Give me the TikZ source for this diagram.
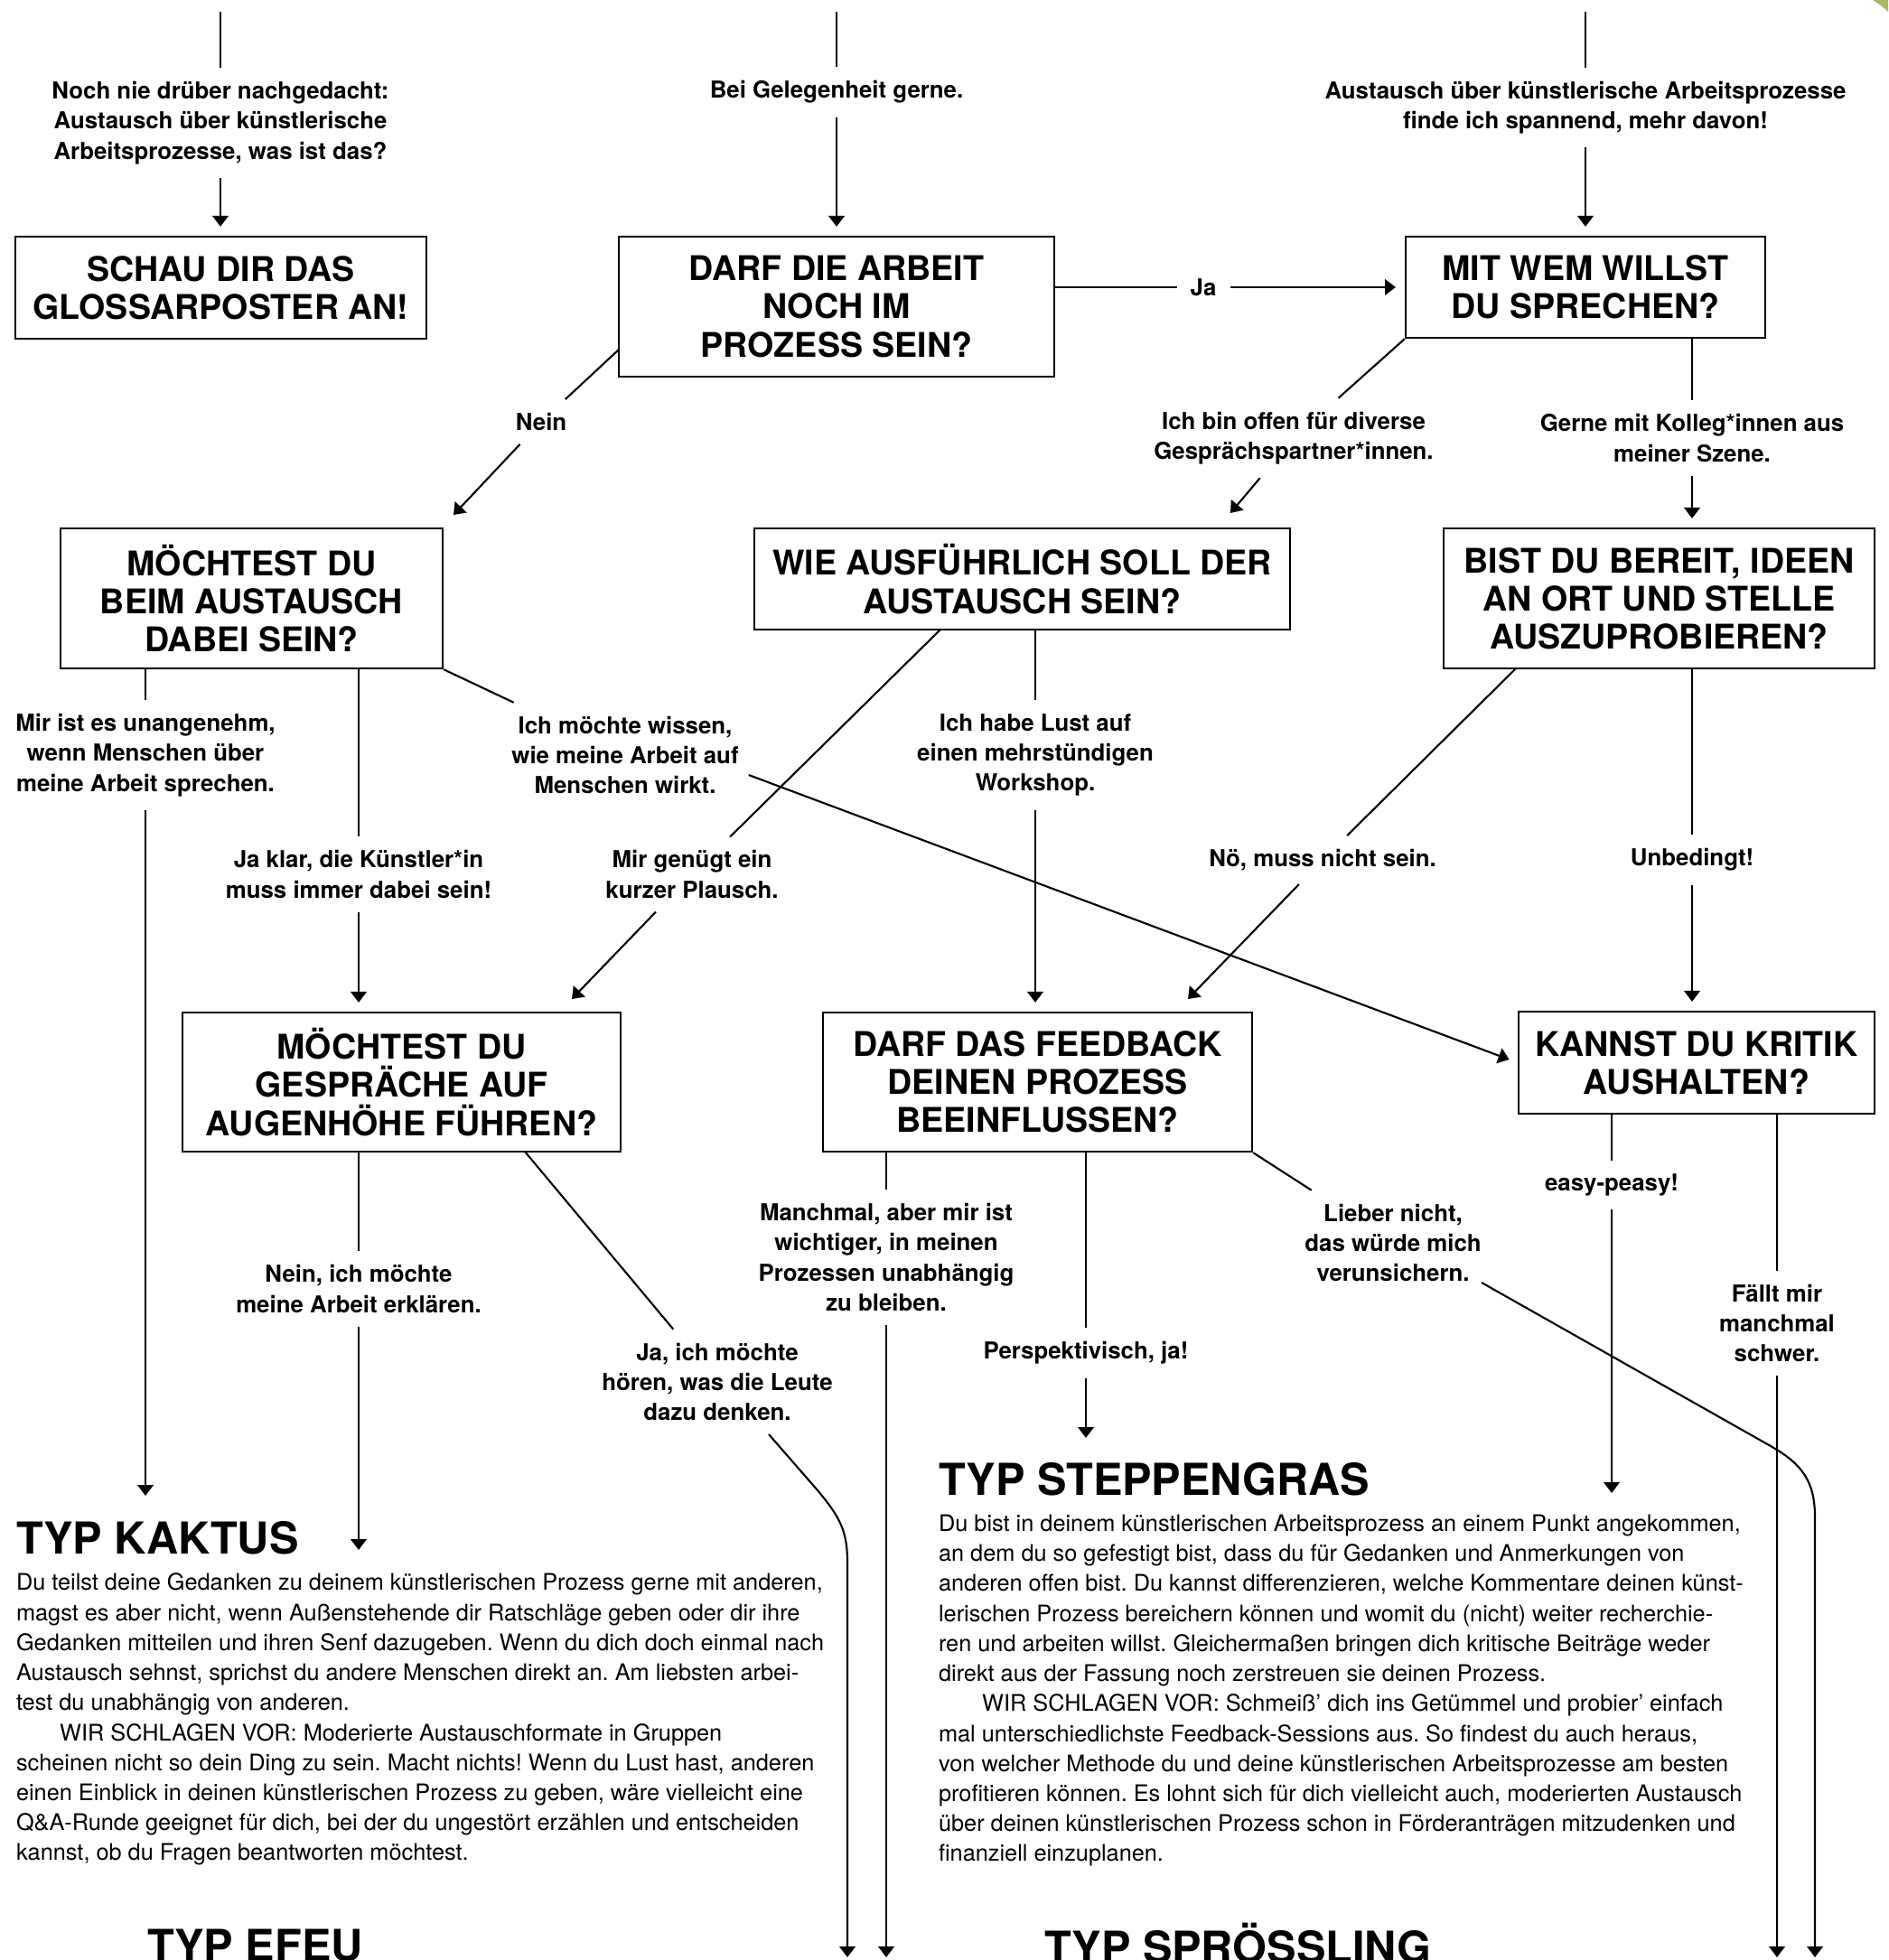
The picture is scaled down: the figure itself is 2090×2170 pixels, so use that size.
\documentclass[tikz,border=0pt]{standalone}
\usepackage{fontspec}
\setmainfont{TeX Gyre Heros}
\usetikzlibrary{arrows.meta,calc}
\definecolor{cornergreen}{RGB}{170,186,102}
\newcommand{\boxfont}{\bfseries\fontsize{10.7pt}{12pt}\selectfont}
\newcommand{\lblfont}{\bfseries\fontsize{7.35pt}{9.5pt}\selectfont}
\newcommand{\bodyfont}{\fontsize{7.2pt}{9.45pt}\selectfont}
\newcommand{\headfont}{\bfseries\fontsize{13.85pt}{16pt}\selectfont}
\frenchspacing
\begin{document}
\begin{tikzpicture}[x=0.1mm,y=-0.1mm,line width=0.6pt,
  qbox/.style={draw,line width=0.7pt,align=center,font=\boxfont,inner sep=0pt},
  lbl/.style={align=center,font=\lblfont,inner xsep=4pt,inner ysep=4pt},
  arr/.style={-{Triangle[width=5pt,length=3.4pt]}},
  gap/.style={shorten >=2.8pt},
  head/.style={anchor=base west,font=\headfont,inner sep=0pt},
  body/.style={anchor=north west,align=left,font=\bodyfont,inner sep=0pt}]
\useasboundingbox (0,0) rectangle (2090,2170);
\clip (0,0) rectangle (2090,2170);
\fill[cornergreen] (2073,0) .. controls (2079,4) and (2085,8) .. (2090,13) -- (2090,0) -- cycle;

% question boxes
\node[qbox,minimum width=45.5mm,minimum height=11.3mm] (B1) at (244.5,318.5) {SCHAU DIR DAS\\GLOSSARPOSTER AN!};
\node[qbox,minimum width=48.2mm,minimum height=15.5mm] (B2) at (926,339.5) {DARF DIE ARBEIT\\NOCH IM\\PROZESS SEIN?};
\node[qbox,minimum width=39.8mm,minimum height=11.2mm] (B3) at (1755,318) {MIT WEM WILLST\\DU SPRECHEN?};
\node[qbox,minimum width=42.3mm,minimum height=15.5mm] (B4) at (278.5,662.5) {MÖCHTEST DU\\BEIM AUSTAUSCH\\DABEI SEIN?};
\node[qbox,minimum width=59.3mm,minimum height=11.2mm] (B5) at (1131.5,641) {WIE AUSFÜHRLICH SOLL DER\\AUSTAUSCH SEIN?};
\node[qbox,minimum width=47.7mm,minimum height=15.5mm] (B6) at (1836.5,662.5) {BIST DU BEREIT, IDEEN\\AN ORT UND STELLE\\AUSZUPROBIEREN?};
\node[qbox,minimum width=48.5mm,minimum height=15.4mm] (B7) at (444.5,1198) {MÖCHTEST DU\\GESPRÄCHE AUF\\AUGENHÖHE FÜHREN?};
\node[qbox,minimum width=47.5mm,minimum height=15.4mm] (B8) at (1148.5,1198) {DARF DAS FEEDBACK\\DEINEN PROZESS\\BEEINFLUSSEN?};
\node[qbox,minimum width=39.4mm,minimum height=11.3mm] (B9) at (1878,1176.5) {KANNST DU KRITIK\\AUSHALTEN?};

% answer labels
\node[lbl] (L1) at (244,136) {Noch nie drüber nachgedacht:\\Austausch über künstlerische\\Arbeitsprozesse, was ist das?};
\node[lbl] (L2) at (926,102) {Bei Gelegenheit gerne.};
\node[lbl] (L3) at (1755,119) {Austausch über künstlerische Arbeitsprozesse\\finde ich spannend, mehr davon!};
\node[lbl] (Ja) at (1332,318) {Ja};
\node[lbl] (Nein) at (599,467) {Nein};
\node[lbl] (Offen) at (1432,485) {Ich bin offen für diverse\\Gesprächspartner*innen.};
\node[lbl] (Gerne) at (1873,485) {Gerne mit Kolleg*innen aus\\meiner Szene.};
\node[lbl] (Unang) at (161,836) {Mir ist es unangenehm,\\wenn Menschen über\\meine Arbeit sprechen.};
\node[lbl] (Wissen) at (692,836) {Ich möchte wissen,\\wie meine Arbeit auf\\Menschen wirkt.};
\node[lbl] (Works) at (1146,836) {Ich habe Lust auf\\einen mehrstündigen\\Workshop.};
\node[lbl] (JaKlar) at (397,968) {Ja klar, die Künstler*in\\muss immer dabei sein!};
\node[lbl] (Plausch) at (766,968) {Mir genügt ein\\kurzer Plausch.};
\node[lbl] (Noe) at (1464,952) {Nö, muss nicht sein.};
\node[lbl] (Unbed) at (1873,952) {Unbedingt!};
\node[lbl] (Erkl) at (397,1427) {Nein, ich möchte\\meine Arbeit erklären.};
\node[lbl] (Hoeren) at (794,1530) {Ja, ich möchte\\hören, was die Leute\\dazu denken.};
\node[lbl] (Manch) at (981,1392) {Manchmal, aber mir ist\\wichtiger, in meinen\\Prozessen unabhängig\\zu bleiben.};
\node[lbl] (Persp) at (1202,1498) {Perspektivisch, ja!};
\node[lbl] (Lieber) at (1542,1376) {Lieber nicht,\\das würde mich\\verunsichern.};
\node[lbl] (Easy) at (1784,1312) {easy-peasy!};
\node[lbl] (Faellt) at (1967,1465) {Fällt mir\\manchmal\\schwer.};

% result texts
\node[head] (TKaktus) at (17,1720) {TYP KAKTUS};
\node[body] (Kaktus) at (17,1741) {Du teilst deine Gedanken zu deinem künstlerischen Prozess gerne mit anderen,\\
magst es aber nicht, wenn Außenstehende dir Ratschläge geben oder dir ihre\\
Gedanken mitteilen und ihren Senf dazugeben. Wenn du dich doch einmal nach\\
Austausch sehnst, sprichst du andere Menschen direkt an. Am liebsten arbei-\\
test du unabhängig von anderen.\\
\hspace*{13.7pt}WIR SCHLAGEN VOR: Moderierte Austauschformate in Gruppen\\
scheinen nicht so dein Ding zu sein. Macht nichts! Wenn du Lust hast, anderen\\
einen Einblick in deinen künstlerischen Prozess zu geben, wäre vielleicht eine\\
Q\&A-Runde geeignet für dich, bei der du ungestört erzählen und entscheiden\\
kannst, ob du Fragen beantworten möchtest.};
\node[head] (TStepp) at (1038,1655) {TYP STEPPENGRAS};
\node[body] (Stepp) at (1038,1676) {Du bist in deinem künstlerischen Arbeitsprozess an einem Punkt angekommen,\\
an dem du so gefestigt bist, dass du für Gedanken und Anmerkungen von\\
anderen offen bist. Du kannst differenzieren, welche Kommentare deinen künst-\\
lerischen Prozess bereichern können und womit du (nicht) weiter recherchie-\\
ren und arbeiten willst. Gleichermaßen bringen dich kritische Beiträge weder\\
direkt aus der Fassung noch zerstreuen sie deinen Prozess.\\
\hspace*{13.7pt}WIR SCHLAGEN VOR: Schmeiß’ dich ins Getümmel und probier’ einfach\\
mal unterschiedlichste Feedback-Sessions aus. So findest du auch heraus,\\
von welcher Methode du und deine künstlerischen Arbeitsprozesse am besten\\
profitieren können. Es lohnt sich für dich vielleicht auch, moderierten Austausch\\
über deinen künstlerischen Prozess schon in Förderanträgen mitzudenken und\\
finanziell einzuplanen.};
\node[head] (TEfeu) at (162,2171) {TYP EFEU};
\node[head] (TSpross) at (1155,2173) {TYP SPRÖSSLING};

% free ends
\coordinate (A0) at (244,13);
\coordinate (C0) at (926,13);
\coordinate (D0) at (1755,13);
\coordinate (E0) at (685,387);
\coordinate (E1) at (502,570);
\coordinate (F1) at (1362,568);
\coordinate (H1) at (161,1656);
\coordinate (K0) at (1041,697);
\coordinate (K1) at (633,1106);
\coordinate (M0) at (1678,740);
\coordinate (M1) at (1315,1106);
\coordinate (O1) at (397,1716);
\coordinate (P0) at (581,1275);
\coordinate (P1) at (851,1588);
\coordinate (P9) at (938,2167);
\coordinate (Q9) at (981,2167);
\coordinate (R9) at (1202,1592);
\coordinate (S1) at (1640,1420);
\coordinate (S9) at (2009,2167);
\coordinate (T9) at (1784,1653);
\coordinate (U9) at (1967,2167);

% connectors
\draw (A0) -- (L1);
\draw[arr,gap] (L1) -- (L1 |- B1.north);
\draw (C0) -- (L2);
\draw[arr,gap] (L2) -- (B2);
\draw (D0) -- (L3);
\draw[arr,gap] (L3) -- (B3);
\draw (B2.east |- B3.west) -- (Ja);
\draw[arr,gap] (Ja) -- (B3.west);
\draw (E0) -- (Nein);
\draw[arr] (Nein) -- (E1);
\draw (B3.south west) -- (Offen);
\draw[arr] (Offen) -- (F1);
\draw (Gerne |- B3.south) -- (Gerne);
\draw[arr,gap] (Gerne) -- (Gerne |- B6.north);

\draw (Unang |- B4.south) -- (Unang);
\draw[arr] (Unang) -- (H1);
\draw (JaKlar |- B4.south) -- (JaKlar);
\draw[arr,gap] (JaKlar) -- (JaKlar |- B7.north);
\draw (B4.south east) -- (Wissen);
\draw[arr,gap] ($(Wissen.east)+(-4,22)$) -- (B9.west);
\draw (K0) -- (Plausch);
\draw[arr] (Plausch) -- (K1);
\draw (Works |- B5.south) -- (Works);
\draw[arr,gap] (Works) -- (Works |- B8.north);
\draw (M0) -- (Noe);
\draw[arr] (Noe) -- (M1);
\draw (Unbed |- B6.south) -- (Unbed);
\draw[arr,gap] (Unbed) -- (Unbed |- B9.north);

\draw (Erkl |- B7.south) -- (Erkl);
\draw[arr] (Erkl) -- (O1);
\draw (P0) -- (Hoeren);
\draw[arr] (P1) -- (905,1650) .. controls (930,1680) and (938,1695) .. (938,1730) -- (P9);
\draw (Manch |- B8.south) -- (Manch);
\draw[arr] (Manch) -- (Q9);
\draw (Persp |- B8.south) -- (Persp);
\draw[arr] (Persp) -- (R9);
\draw (B8.south east) -- (Lieber);
\draw[arr] (S1) -- (1960,1601) .. controls (1995,1621) and (2009,1640) .. (2009,1680) -- (S9);
\draw (Easy |- B9.south) -- (Easy);
\draw[arr] (Easy) -- (T9);
\draw (Faellt |- B9.south) -- (Faellt);
\draw[arr] (Faellt) -- (U9);
\end{tikzpicture}
\end{document}
